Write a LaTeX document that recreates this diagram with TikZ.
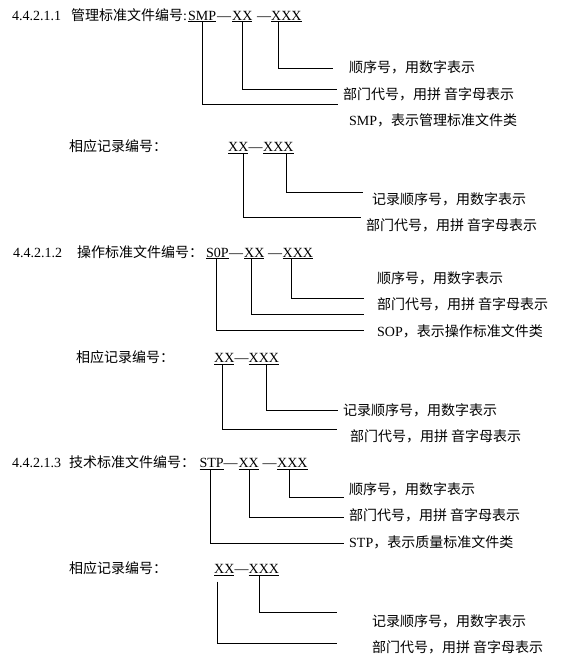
\documentclass[tikz,border=0pt]{standalone}
\usepackage{fontspec}
\setmainfont{Liberation Serif}
\newfontfamily\cjk{Noto Sans CJK SC}
\newcommand\ulc[1]{\setbox0\hbox{#1}\rlap{\rule[-2pt]{\wd0}{0.8pt}}\box0}

\tikzset{
  txt/.style={anchor=base west, inner sep=0pt},
  lead/.style={line width=0.8pt},
}

\begin{document}
\begin{tikzpicture}[x=1pt, y=-1pt, font=\fontsize{14}{16}\selectfont]
  \useasboundingbox (0,0) rectangle (582,665);

  % 4.4.2.1.1
  \node[txt] (n1) at (12,20) {4.4.2.1.1};
  \node[txt] (t1) at (71,20) {{\cjk 管理标准文件编号}:};
  \node[txt] (smp) at (188,20) {\ulc{SMP}};
  \node[txt] (d11) at (217,20) {—};
  \node[txt] (xx1) at (232,20) {\ulc{XX}};
  \node[txt] (d12) at (257,20) {—};
  \node[txt] (xxx1) at (271,20) {\ulc{XXX}};

  \node[txt] (seq1) at (349,72.7) {\cjk 顺序号，用数字表示};
  \node[txt] (dep1) at (343,99) {\cjk 部门代号，用拼\hspace{3pt}音字母表示};
  \node[txt] (cls1) at (349,125.4) {SMP{\cjk ，表示管理标准文件类}};

  \coordinate (e11) at (333,68.7);
  \coordinate (e12) at (337,89.3);
  \coordinate (e13) at (338,104);
  \draw[lead] ([xshift=-8pt]xxx1.south) |- (e11);
  \draw[lead] (xx1.south) |- (e12);
  \draw[lead] (smp.south) |- (e13);

  \node[txt] (r1) at (69,151.75) {\cjk 相应记录编号：};
  \node[txt] (rxx1) at (228,151.75) {\ulc{XX}};
  \node[txt] (rd1) at (248.5,151.75) {—};
  \node[txt] (rxxx1) at (263,151.75) {\ulc{XXX}};

  \node[txt] (rseq1) at (372,204.45) {\cjk 记录顺序号，用数字表示};
  \node[txt] (rdep1) at (366,230.8) {\cjk 部门代号，用拼\hspace{3pt}音字母表示};

  \coordinate (f11) at (363,192);
  \coordinate (f12) at (361,217);
  \draw[lead] ([xshift=8.5pt]rxxx1.south) |- (f11);
  \draw[lead] ([xshift=4.6pt]rxx1.south) |- (f12);

  % 4.4.2.1.2
  \node[txt] (n2) at (13,257.15) {4.4.2.1.2};
  \node[txt] (t2) at (77,257.15) {\cjk 操作标准文件编号：};
  \node[txt] (sop) at (206,257.15) {\ulc{S0P}};
  \node[txt] (d21) at (229,257.15) {—};
  \node[txt] (xx2) at (244,257.15) {\ulc{XX}};
  \node[txt] (d22) at (268,257.15) {—};
  \node[txt] (xxx2) at (282.5,257.15) {\ulc{XXX}};

  \node[txt] (seq2) at (377,283.5) {\cjk 顺序号，用数字表示};
  \node[txt] (dep2) at (377,309.85) {\cjk 部门代号，用拼\hspace{3pt}音字母表示};
  \node[txt] (cls2) at (377,336.2) {SOP{\cjk ，表示操作标准文件类}};

  \coordinate (e21) at (364,298);
  \coordinate (e22) at (364,314);
  \coordinate (e23) at (364,330.3);
  \draw[lead] ([xshift=-6pt]xxx2.south) |- (e21);
  \draw[lead] ([xshift=-3.4pt]xx2.south) |- (e22);
  \draw[lead] ([xshift=-1.3pt]sop.south) |- (e23);

  \node[txt] (r2) at (76,362.55) {\cjk 相应记录编号：};
  \node[txt] (rxx2) at (214,362.55) {\ulc{XX}};
  \node[txt] (rd2) at (234.5,362.55) {—};
  \node[txt] (rxxx2) at (248.5,362.55) {\ulc{XXX}};

  \node[txt] (rseq2) at (343,415.25) {\cjk 记录顺序号，用数字表示};
  \node[txt] (rdep2) at (350,441.6) {\cjk 部门代号，用拼\hspace{3pt}音字母表示};

  \coordinate (f21) at (338,410.3);
  \coordinate (f22) at (337,429.3);
  \draw[lead] ([xshift=3pt]rxxx2.south) |- (f21);
  \draw[lead] ([xshift=-2.4pt]rxx2.south) |- (f22);

  % 4.4.2.1.3
  \node[txt] (n3) at (12,467.95) {4.4.2.1.3};
  \node[txt] (t3) at (69,467.95) {\cjk 技术标准文件编号：};
  \node[txt] (stp) at (199.3,467.95) {\ulc{STP}};
  \node[txt] (d31) at (223.5,467.95) {—};
  \node[txt] (xx3) at (238.3,467.95) {\ulc{XX}};
  \node[txt] (d32) at (262.5,467.95) {—};
  \node[txt] (xxx3) at (277,467.95) {\ulc{XXX}};

  \node[txt] (seq3) at (349,494.3) {\cjk 顺序号，用数字表示};
  \node[txt] (dep3) at (349,520.65) {\cjk 部门代号，用拼\hspace{3pt}音字母表示};
  \node[txt] (cls3) at (349,547) {STP{\cjk ，表示质量标准文件类}};

  \coordinate (e31) at (344,497.3);
  \coordinate (e32) at (344,517.3);
  \coordinate (e33) at (344,543.3);
  \draw[lead] ([xshift=-3pt]xxx3.south) |- (e31);
  \draw[lead] ([xshift=1pt]xx3.south) |- (e32);
  \draw[lead] ([xshift=-1.3pt]stp.south) |- (e33);

  \node[txt] (r3) at (69,573.35) {\cjk 相应记录编号：};
  \node[txt] (rxx3) at (214,573.35) {\ulc{XX}};
  \node[txt] (rd3) at (234.5,573.35) {—};
  \node[txt] (rxxx3) at (248.5,573.35) {\ulc{XXX}};

  \node[txt] (rseq3) at (372,626.05) {\cjk 记录顺序号，用数字表示};
  \node[txt] (rdep3) at (372,652.4) {\cjk 部门代号，用拼\hspace{3pt}音字母表示};

  \coordinate (f31) at (337,612.3);
  \coordinate (f32) at (337,643.3);
  \draw[lead] ([xshift=-4.4pt]rxxx3.south) |- (f31);
  \draw[lead] ([xshift=-6.8pt,yshift=-6pt]rxx3.south) |- (f32);
\end{tikzpicture}
\end{document}
